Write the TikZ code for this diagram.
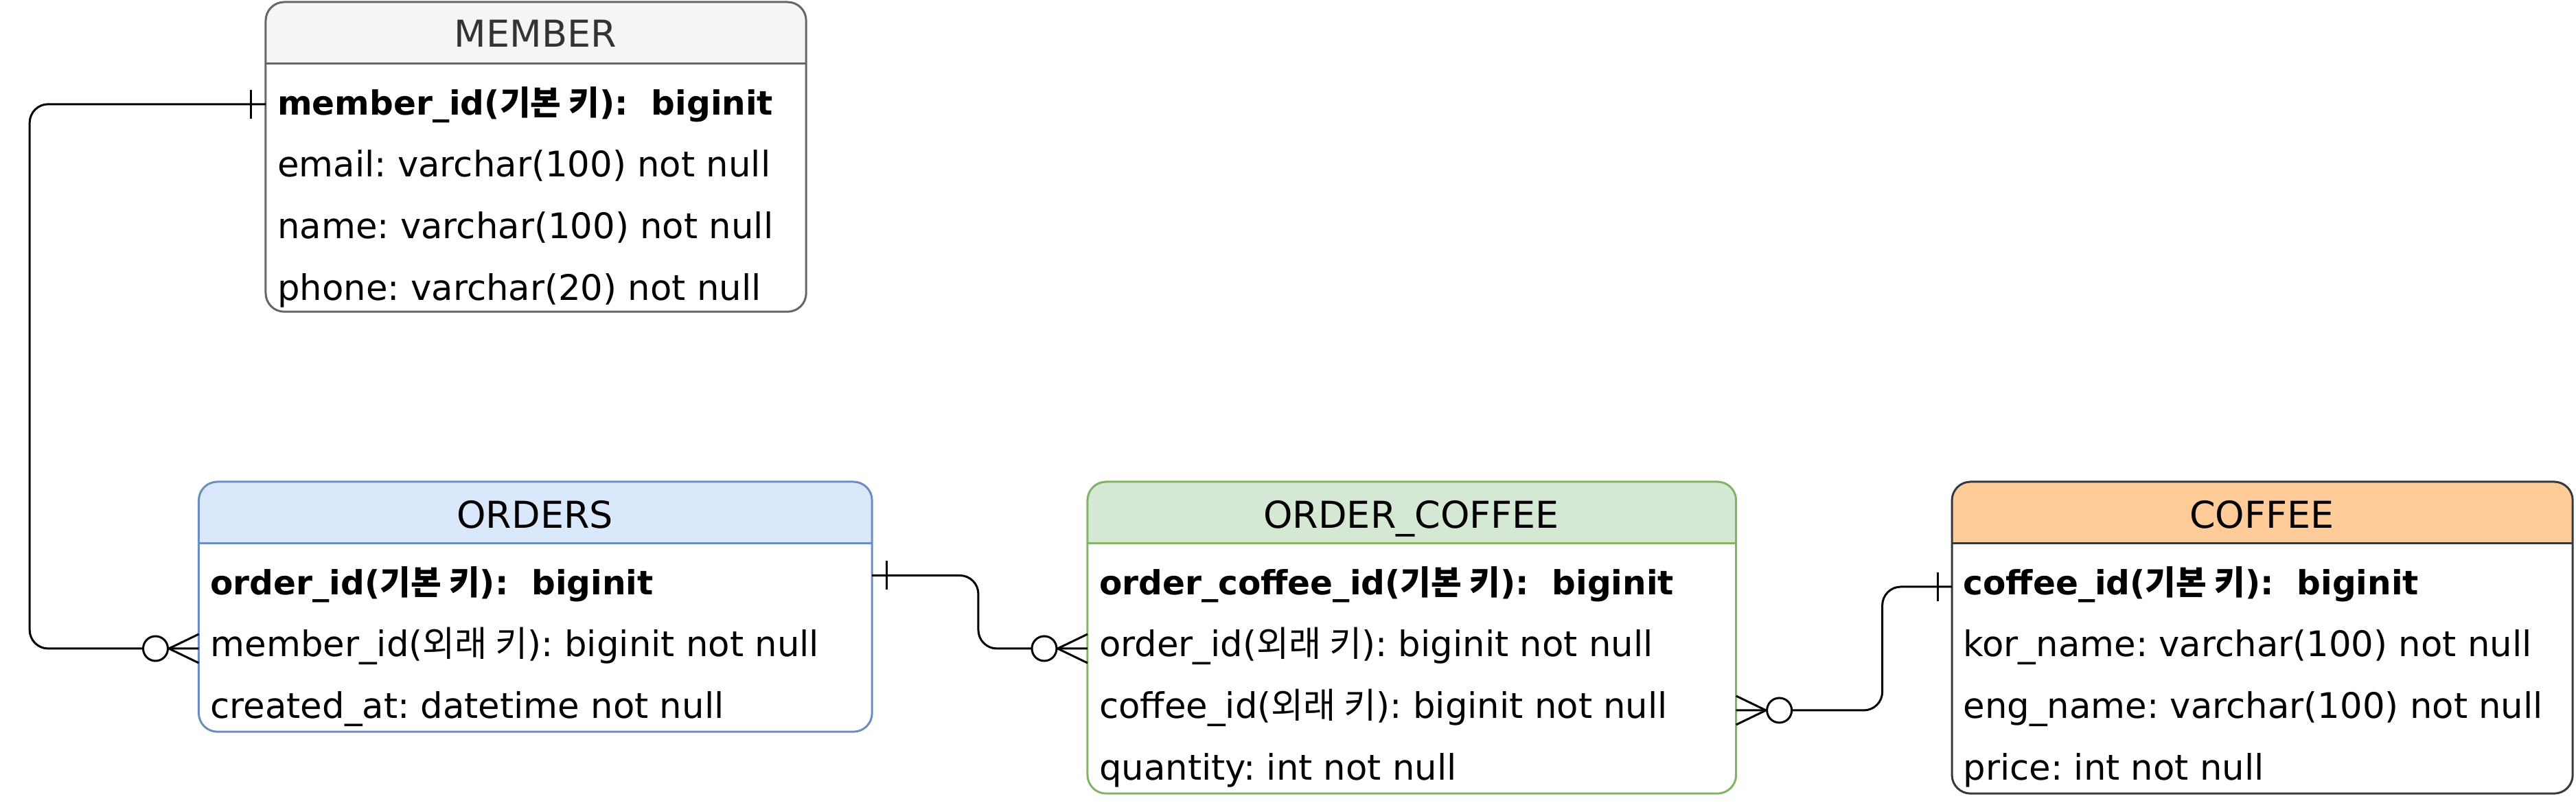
\documentclass[tikz,border=0pt]{standalone}
\usepackage{fontspec}
\setmainfont{DejaVu Sans}
\newfontfamily\krfont{Noto Sans CJK KR}
\newcommand{\ko}[1]{{\krfont #1}}
\frenchspacing
\usepackage{tikz}
\usetikzlibrary{positioning}
\definecolor{ERD_Gray}{HTML}{666666}
\definecolor{ERD_GrayFill}{HTML}{F5F5F5}
\definecolor{ERD_GrayText}{HTML}{333333}
\definecolor{ERD_Blue}{HTML}{6C8EBF}
\definecolor{ERD_BlueFill}{HTML}{DAE8FC}
\definecolor{ERD_Green}{HTML}{82B366}
\definecolor{ERD_GreenFill}{HTML}{D5E8D4}
\definecolor{ERD_Dark}{HTML}{36393D}
\definecolor{ERD_OrangeFill}{HTML}{FFCC99}

\begin{document}
\begin{tikzpicture}[
    x=1pt, y=-1pt,
    tbl/.style={fill=white, anchor=north west, inner sep=0pt},
    frame/.style={line width=1pt, rounded corners=9pt},
    head/.style={font=\fontsize{18}{21}\selectfont, anchor=center, inner sep=0pt, text height=13pt, text depth=0pt},
    field/.style={font=\fontsize{17.1}{20}\selectfont, anchor=west, inner sep=0pt, text height=12pt, text depth=4pt},
    key/.style={field, font=\fontsize{16.2}{19}\selectfont\bfseries},
    conn/.style={line width=1pt, rounded corners=9pt}
]
\useasboundingbox (0,0) rectangle (1250.7,389.7);

% MEMBER
\node[tbl, minimum width=262pt, minimum height=150pt] (member) at (129,1) {};
\begin{scope}
\clip[rounded corners=9pt] (member.north west) rectangle (member.south east);
\fill[ERD_GrayFill] (member.north west) rectangle ([yshift=-30pt]member.north east);
\end{scope}
\draw[frame, ERD_Gray] (member.north west) rectangle (member.south east);
\draw[line width=1pt, ERD_Gray] ([yshift=-30pt]member.north west) -- ([yshift=-30pt]member.north east);
\node[head, text=ERD_GrayText] (member-t) at (260,16.5) {MEMBER};
\node[key] (member-1) at (134.5,52) {member\_id(\ko{기본 키}):\ \ biginit};
\node[field] (member-2) at (134.5,82) {email: varchar(100) not null};
\node[field] (member-3) at (134.5,112) {name: varchar(100) not null};
\node[field] (member-4) at (134.5,142) {phone: varchar(20) not null};

% ORDERS
\node[tbl, minimum width=326.5pt, minimum height=121pt] (orders) at (96.5,234) {};
\begin{scope}
\clip[rounded corners=9pt] (orders.north west) rectangle (orders.south east);
\fill[ERD_BlueFill] (orders.north west) rectangle ([yshift=-30pt]orders.north east);
\end{scope}
\draw[frame, ERD_Blue] (orders.north west) rectangle (orders.south east);
\draw[line width=1pt, ERD_Blue] ([yshift=-30pt]orders.north west) -- ([yshift=-30pt]orders.north east);
\node[head] (orders-t) at (259.75,250) {ORDERS};
\node[key] (orders-1) at (102,285) {order\_id(\ko{기본 키}):\ \ biginit};
\node[field] (orders-2) at (102,315) {member\_id(\ko{외래 키}): biginit not null};
\node[field] (orders-3) at (102,345) {created\_at: datetime not null};

% ORDER_COFFEE
\node[tbl, minimum width=314.5pt, minimum height=151pt] (ordercoffee) at (528,234) {};
\begin{scope}
\clip[rounded corners=9pt] (ordercoffee.north west) rectangle (ordercoffee.south east);
\fill[ERD_GreenFill] (ordercoffee.north west) rectangle ([yshift=-30pt]ordercoffee.north east);
\end{scope}
\draw[frame, ERD_Green] (ordercoffee.north west) rectangle (ordercoffee.south east);
\draw[line width=1pt, ERD_Green] ([yshift=-30pt]ordercoffee.north west) -- ([yshift=-30pt]ordercoffee.north east);
\node[head] (ordercoffee-t) at (685.25,250) {ORDER\_COFFEE};
\node[key] (ordercoffee-1) at (533.5,285) {order\_coffee\_id(\ko{기본 키}):\ \ biginit};
\node[field] (ordercoffee-2) at (533.5,315) {order\_id(\ko{외래 키}): biginit not null};
\node[field] (ordercoffee-3) at (533.5,345) {coffee\_id(\ko{외래 키}): biginit not null};
\node[field] (ordercoffee-4) at (533.5,375) {quantity: int not null};

% COFFEE
\node[tbl, minimum width=301pt, minimum height=151pt] (coffee) at (947.7,234) {};
\begin{scope}
\clip[rounded corners=9pt] (coffee.north west) rectangle (coffee.south east);
\fill[ERD_OrangeFill] (coffee.north west) rectangle ([yshift=-30pt]coffee.north east);
\end{scope}
\draw[frame, ERD_Dark] (coffee.north west) rectangle (coffee.south east);
\draw[line width=1pt, ERD_Dark] ([yshift=-30pt]coffee.north west) -- ([yshift=-30pt]coffee.north east);
\node[head] (coffee-t) at (1098.2,250) {COFFEE};
\node[key] (coffee-1) at (953,285) {coffee\_id(\ko{기본 키}):\ \ biginit};
\node[field] (coffee-2) at (953,315) {kor\_name: varchar(100) not null};
\node[field] (coffee-3) at (953,345) {eng\_name: varchar(100) not null};
\node[field] (coffee-4) at (953,375) {price: int not null};

% relations
\coordinate (m1) at ([yshift=1.4pt]member.west |- member-1);
\coordinate (o1) at ([yshift=5.5pt]orders.east |- orders-1);
\coordinate (o2) at (orders.west |- orders-2);
\coordinate (oc2) at (ordercoffee.west |- ordercoffee-2);
\coordinate (oc3) at (ordercoffee.east |- ordercoffee-3);
\coordinate (c1) at (coffee.west |- coffee-1);

\draw[conn] (m1) -| (14.4,0 |- o2) -- (o2);
\draw[conn] ([xshift=-7pt]m1) ++(0,-7) -- ++(0,14);
\draw[conn] ([xshift=-14.5pt]o2) -- ++(14.5,-7) ([xshift=-14.5pt]o2) -- ++(14.5,7);
\draw[conn, fill=white] ([xshift=-21pt]o2) circle (6pt);

\draw[conn] (o1) -| (475,0 |- oc2) -- (oc2);
\draw[conn] ([xshift=7pt]o1) ++(0,-7) -- ++(0,14);
\draw[conn] ([xshift=-14.5pt]oc2) -- ++(14.5,-7) ([xshift=-14.5pt]oc2) -- ++(14.5,7);
\draw[conn, fill=white] ([xshift=-21pt]oc2) circle (6pt);

\draw[conn] (oc3) -| (913.9,0 |- c1) -- (c1);
\draw[conn] ([xshift=-7pt]c1) ++(0,-7) -- ++(0,14);
\draw[conn] ([xshift=14.5pt]oc3) -- ++(-14.5,-7) ([xshift=14.5pt]oc3) -- ++(-14.5,7);
\draw[conn, fill=white] ([xshift=21pt]oc3) circle (6pt);
\end{tikzpicture}
\end{document}
